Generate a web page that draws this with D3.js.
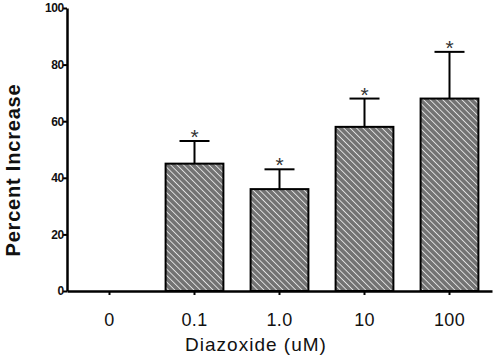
<!DOCTYPE html>
<html>
<head>
<meta charset="utf-8">
<script src="https://cdn.jsdelivr.net/npm/d3@7"></script>
<style>
  body { margin: 0; background: #fff; }
  svg { display: block; font-family: Arial, "Liberation Sans", sans-serif; }
</style>
</head>
<body>
<svg id="chart"></svg>
<script>
// data
const doses = ["0", "0.1", "1.0", "10", "100"];
const percentIncrease = [0, 45, 36, 58, 68];
const errorTop = [0, 53, 43, 68, 84.5];
const significant = [false, true, true, true, true];
const yTicks = [0, 20, 40, 60, 80, 100];

const width = 498, height = 361;
const marginLeft = 67, marginRight = 6, marginTop = 8, marginBottom = 70;

const svg = d3.select("#chart").attr("width", width).attr("height", height);

const x = d3.scaleBand()
    .domain(doses)
    .range([marginLeft, width - marginRight])
    .paddingInner(0.32)
    .paddingOuter(0.16);
const y = d3.scaleLinear()
    .domain([0, 100])
    .range([height - marginBottom, marginTop]);

// hatch pattern, lines running top-left to bottom-right
const pat = svg.append("defs").append("pattern")
    .attr("id", "hatch")
    .attr("patternUnits", "userSpaceOnUse")
    .attr("width", 4.5).attr("height", 4.5)
    .attr("patternTransform", "rotate(45)");
pat.append("rect").attr("width", 4.5).attr("height", 4.5).attr("fill", "#737373");
pat.append("line")
    .attr("x1", 0).attr("y1", 0).attr("x2", 4.5).attr("y2", 0)
    .attr("stroke", "#f2f2f2").attr("stroke-width", 1.6);

const rows = doses.map((d, i) => ({dose: d, value: percentIncrease[i], err: errorTop[i], sig: significant[i]}));

// bars
svg.append("g").selectAll("rect")
    .data(rows.filter(d => d.value > 0))
    .join("rect")
        .attr("x", d => x(d.dose))
        .attr("y", d => y(d.value))
        .attr("width", x.bandwidth())
        .attr("height", d => y(0) - y(d.value))
        .attr("fill", "url(#hatch)")
        .attr("stroke", "#000")
        .attr("stroke-width", 2);

// error bars
const eb = svg.append("g").attr("stroke", "#000").attr("stroke-width", 2);
const withErr = rows.filter(d => d.err > d.value);
eb.selectAll("line.v")
    .data(withErr)
    .join("line").attr("class", "v")
        .attr("x1", d => x(d.dose) + x.bandwidth() / 2)
        .attr("x2", d => x(d.dose) + x.bandwidth() / 2)
        .attr("y1", d => y(d.value))
        .attr("y2", d => y(d.err));
eb.selectAll("line.h")
    .data(withErr)
    .join("line").attr("class", "h")
        .attr("x1", d => x(d.dose) + x.bandwidth() / 2 - 15)
        .attr("x2", d => x(d.dose) + x.bandwidth() / 2 + 15)
        .attr("y1", d => y(d.err))
        .attr("y2", d => y(d.err));

// asterisks
svg.append("g").selectAll("text")
    .data(rows.filter(d => d.sig))
    .join("text")
        .attr("x", d => x(d.dose) + x.bandwidth() / 2)
        .attr("y", d => y(d.err) + 3)
        .attr("text-anchor", "middle")
        .attr("font-size", 21)
        .attr("fill", "#333")
        .text("*");

// axes
const xAxis = svg.append("g")
    .attr("transform", "translate(0," + y(0) + ")")
    .call(d3.axisBottom(x).tickSize(4).tickSizeOuter(0));
xAxis.select(".domain").attr("stroke-width", 2.5);
xAxis.selectAll(".tick line").attr("stroke-width", 2);
xAxis.selectAll(".tick text")
    .attr("font-size", 18).attr("y", 35).attr("dy", 0)
    .attr("letter-spacing", "0.3px").attr("fill", "#111");

const yAxis = svg.append("g")
    .attr("transform", "translate(" + marginLeft + ",0)")
    .call(d3.axisLeft(y).tickValues(yTicks).tickSize(4).tickSizeOuter(0));
yAxis.select(".domain").attr("stroke-width", 2.5);
yAxis.selectAll(".tick line").attr("stroke-width", 2);
yAxis.selectAll(".tick text").attr("font-size", 12).attr("font-weight", "bold")
    .attr("letter-spacing", "-0.5px").attr("dx", "0.3em").attr("fill", "#111");

// titles
svg.append("text")
    .attr("x", 256)
    .attr("y", 351)
    .attr("text-anchor", "middle")
    .attr("font-size", 19)
    .attr("letter-spacing", "1px")
    .attr("fill", "#111")
    .text("Diazoxide (uM)");

svg.append("text")
    .attr("transform", "translate(20," + 170 + ") rotate(-90)")
    .attr("text-anchor", "middle")
    .attr("font-size", 20)
    .attr("font-weight", "bold")
    .attr("letter-spacing", "0.8px")
    .attr("fill", "#111")
    .text("Percent Increase");
</script>
</body>
</html>
